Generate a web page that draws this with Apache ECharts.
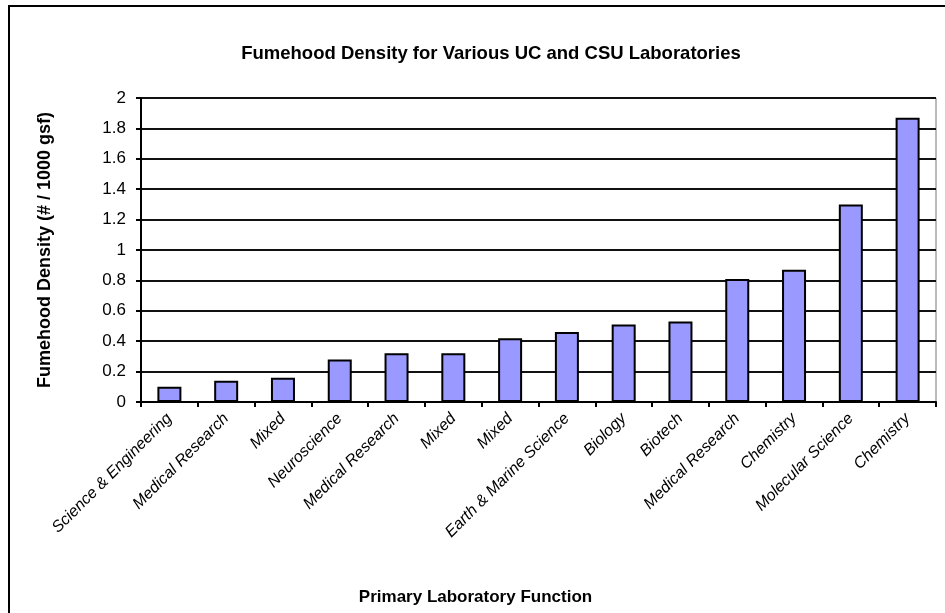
<!DOCTYPE html>
<html>
<head>
<meta charset="utf-8">
<script src="https://cdn.jsdelivr.net/npm/echarts@6/dist/echarts.min.js"></script>
<style>
  html, body { margin: 0; padding: 0; background: #fff; }
  #chart { width: 945px; height: 613px; }
</style>
</head>
<body>
<div id="chart"></div>
<script>
const categories = [
  'Science & Engineering', 'Medical Research', 'Mixed', 'Neuroscience',
  'Medical Research', 'Mixed', 'Mixed', 'Earth & Marine Science',
  'Biology', 'Biotech', 'Medical Research', 'Chemistry',
  'Molecular Science', 'Chemistry'
];
const density = [0.1, 0.14, 0.16, 0.28, 0.32, 0.32, 0.42, 0.46, 0.51, 0.53, 0.81, 0.87, 1.3, 1.87];
const yTicks = [0, 0.2, 0.4, 0.6, 0.8, 1, 1.2, 1.4, 1.6, 1.8, 2];

const chart = echarts.init(document.getElementById('chart'), null, { renderer: 'canvas' });

chart.setOption({
  backgroundColor: '#fff',
  animation: false,
  title: {
    text: 'Fumehood Density for Various UC and CSU Laboratories',
    left: 486, top: 39, textAlign: 'center',
    textStyle: { fontFamily: 'Arial, Liberation Sans', fontSize: 18.5, fontWeight: 'bold', color: '#000' },
  },
  graphic: [
    // outer frame of the original picture (right side falls outside the crop)
    { type: 'rect', shape: { x: 9, y: 6, width: 960, height: 640 },
      style: { fill: null, stroke: '#000', lineWidth: 2 }, silent: true },
  ],
  grid: {
    left: 141, right: 9, top: 98, bottom: 211,
    show: true, borderColor: '#777', borderWidth: 1, backgroundColor: 'transparent',
  },
  xAxis: {
    type: 'category',
    data: categories,
    name: 'Primary Laboratory Function',
    nameLocation: 'middle',
    nameGap: 187,
    nameTextStyle: { fontFamily: 'Arial, Liberation Sans', fontSize: 17, fontWeight: 'bold', color: '#000', padding: [0, 126, 0, 0] },
    axisLine: { lineStyle: { color: '#000', width: 2 } },
    axisTick: { show: true, alignWithLabel: false, length: 5, lineStyle: { color: '#000', width: 2 } },
    axisLabel: {
      rotate: 45, interval: 0, margin: 14,
      fontFamily: 'Arial, Liberation Sans', fontSize: 16, fontStyle: 'italic', color: '#000',
    },
  },
  yAxis: {
    type: 'value',
    min: yTicks[0], max: yTicks[yTicks.length - 1], interval: 0.2,
    name: 'Fumehood Density (# / 1000 gsf)',
    nameLocation: 'middle',
    nameGap: 87,
    nameTextStyle: { fontFamily: 'Arial, Liberation Sans', fontSize: 18, fontWeight: 'bold', color: '#000' },
    axisLine: { show: true, lineStyle: { color: '#000', width: 2 } },
    axisTick: { show: true, length: 5, lineStyle: { color: '#000', width: 2 } },
    axisLabel: {
      margin: 15,
      fontFamily: 'Arial, Liberation Sans', fontSize: 17, color: '#000',
      formatter: v => String(+v.toFixed(1)),
    },
    splitLine: { show: true, lineStyle: { color: '#111', width: 2 } },
  },
  series: [{
    type: 'bar',
    data: density,
    barWidth: 24,
    itemStyle: { color: '#9999ff', borderColor: '#000', borderWidth: 2 },
  }],
});
</script>
</body>
</html>
